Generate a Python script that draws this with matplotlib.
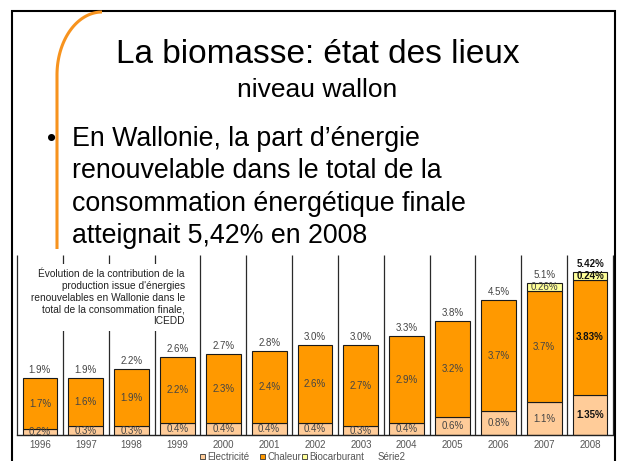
import matplotlib
matplotlib.use('Agg')
import matplotlib.pyplot as plt
import numpy as np
from matplotlib.patches import Rectangle

plt.rcParams['font.family'] = ['Liberation Sans', 'DejaVu Sans']

# ---------------- data ----------------
years = ['1996', '1997', '1998', '1999', '2000', '2001', '2002',
         '2003', '2004', '2005', '2006', '2007', '2008']
electricite = [0.2, 0.3, 0.3, 0.4, 0.4, 0.4, 0.4, 0.3, 0.4, 0.6, 0.8, 1.1, 1.35]
chaleur = [1.7, 1.6, 1.9, 2.2, 2.3, 2.4, 2.6, 2.7, 2.9, 3.2, 3.7, 3.7, 3.83]
biocarburant = [0, 0, 0, 0, 0, 0, 0, 0, 0, 0, 0, 0.26, 0.24]
totaux = [1.9, 1.9, 2.2, 2.6, 2.7, 2.8, 3.0, 3.0, 3.3, 3.8, 4.5, 5.1, 5.42]
series_names = ['Electricité', 'Chaleur', 'Biocarburant', 'Série2']
series_colors = ['#FFCC99', '#FF9900', '#FFFF99', None]

title = 'La biomasse: état des lieux'
subtitle = 'niveau wallon'
bullet_lines = ['En Wallonie, la part d’énergie',
                'renouvelable dans le total de la',
                'consommation énergétique finale',
                'atteignait 5,42% en 2008']
note_lines = ['Évolution de la contribution de la',
              'production issue d\'énergies',
              'renouvelables en Wallonie dans le',
              'total de la consommation finale,',
              'ICEDD']


def fmt(v):
    s = f"{v:.2f}"
    if s.endswith('0'):
        s = s[:-1]
    return s + '%'


W, H = 621, 461
fig = plt.figure(figsize=(W / 100, H / 100), dpi=100)
fig.patch.set_facecolor('white')

# ---------------- chart ----------------
ax = fig.add_axes([17 / W, 1 - 435 / H, (613 - 17) / W, (435 - 255) / H])
ax.set_zorder(1)
ax.patch.set_alpha(0)

x = np.arange(len(years))
elec = np.array(electricite)
chal = np.array(chaleur)
bio = np.array(biocarburant)
bw = 0.76
ec = '#1a1a1a'
ax.bar(x, elec, bw, color=series_colors[0], edgecolor=ec, linewidth=0.8, zorder=2)
ax.bar(x, chal, bw, bottom=elec, color=series_colors[1], edgecolor=ec, linewidth=0.8, zorder=2)
m = bio > 0
ax.bar(x[m], bio[m], bw, bottom=(elec + chal)[m], color=series_colors[2],
       edgecolor=ec, linewidth=0.8, zorder=2)

ax.vlines(np.arange(-0.5, len(years)), 0, 6, color='#2a2a2a', linewidth=0.9,
          clip_on=False, zorder=1)
ax.set_xlim(-0.5, len(years) - 0.5)
ax.set_ylim(0, 6)
for s in ['top', 'right', 'left']:
    ax.spines[s].set_visible(False)
ax.spines['bottom'].set_color('#222222')
ax.spines['bottom'].set_linewidth(1.0)
ax.set_yticks([])
ax.set_xticks(x)
ax.set_xticklabels(years, fontsize=7, color='#555555')
ax.tick_params(axis='x', length=0, pad=3.5)

for i in range(len(years)):
    bold = (i == len(years) - 1)
    kw = dict(ha='center', va='center', fontsize=7,
              fontweight='bold' if bold else 'normal',
              color='#111111' if bold else '#444444', zorder=3)
    ax.text(x[i], elec[i] / 2, fmt(elec[i]), **kw)
    ax.text(x[i], elec[i] + chal[i] / 2, fmt(chal[i]), **kw)
    if bio[i] > 0:
        ax.text(x[i], elec[i] + chal[i] + bio[i] / 2, fmt(bio[i]), **kw)
    top = elec[i] + chal[i] + bio[i]
    ax.text(x[i], top + 0.28, fmt(totaux[i]), **kw)

# ---------------- slide overlay (pixel coordinates) ----------------
ov = fig.add_axes([0, 0, 1, 1])
ov.set_zorder(3)
ov.axis('off')
ov.set_xlim(0, W)
ov.set_ylim(H, 0)

# slide frame
ov.plot([12, 12, 615, 615], [H + 10, 11, 11, H + 10], color='black',
        linewidth=1.5, solid_joinstyle='miter')

# orange decorative curve
t = np.linspace(0, np.pi / 2, 60)
cx = 102 - 45 * np.cos(t)
cy = 75 - 63 * np.sin(t)
ov.plot(np.r_[57, cx], np.r_[249, cy], color='#F7931E', linewidth=2.2,
        solid_capstyle='butt')

# titles
ov.text(317.5, 63, title, ha='center', va='baseline', fontsize=24, color='black')
ov.text(317, 97, subtitle, ha='center', va='baseline', fontsize=19, color='black')
ov.text(52, 146, '•', ha='center', va='baseline', fontsize=19, color='black')
for k, line in enumerate(bullet_lines):
    ov.text(72, 146 + 32.3 * k, line, ha='left', va='baseline', fontsize=19.3,
            color='black')

# chart note with white box
ov.text(185, 297.5, '\n'.join(note_lines), ha='right', va='center',
        multialignment='right', fontsize=7.3, color='#222222', linespacing=1.22,
        bbox=dict(boxstyle='square,pad=0.45', facecolor='white', edgecolor='none'))

# legend at the bottom of the slide
leg_marker_x = [200, 260, 302]
leg_text_x = [207, 267, 309, 378]
for k, name in enumerate(series_names):
    if series_colors[k] is not None:
        ov.add_patch(Rectangle((leg_marker_x[k], 453.5), 5, 5,
                               facecolor=series_colors[k], edgecolor='#333333',
                               linewidth=0.6))
    ov.text(leg_text_x[k], 459.5, name, ha='left', va='baseline', fontsize=7,
            color='#555555')

fig.savefig('out.png', dpi=100, facecolor='white')
